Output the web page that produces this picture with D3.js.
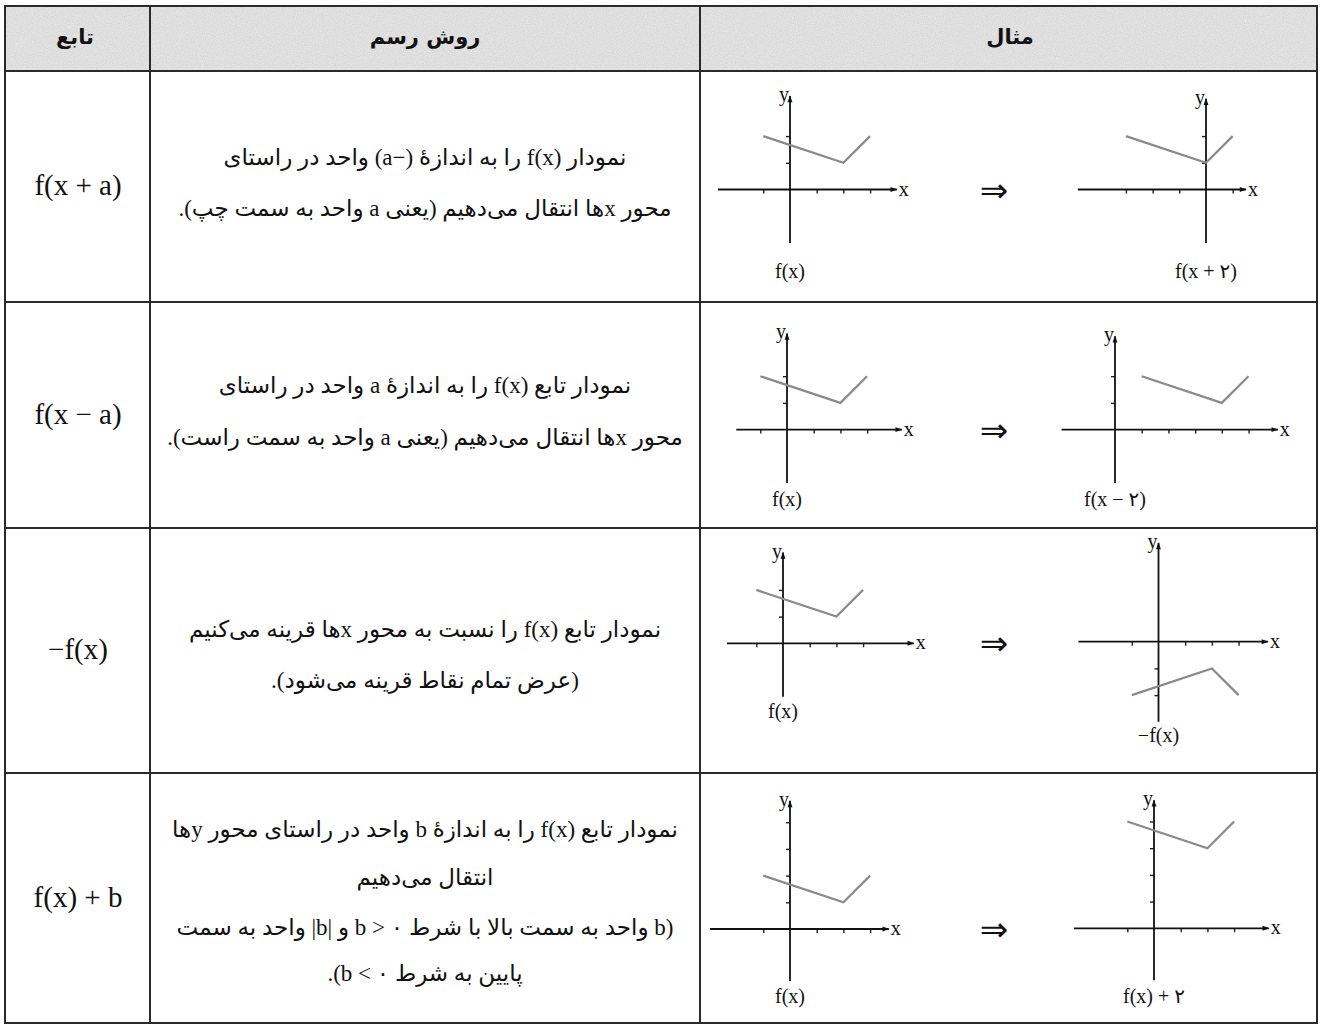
<!DOCTYPE html>
<html>
<head>
<meta charset="utf-8">
<script src="https://cdn.jsdelivr.net/npm/d3@7"></script>
<style>
  body { margin: 0; background: #fff; }
  svg { display: block; }
</style>
</head>
<body>
<div id="chart"></div>
<script>
// table text
const headers = ["تابع", "روش رسم", "مثال"];
const functionLabels = ["f(x + a)", "f(x − a)", "−f(x)", "f(x) + b"];
const methodLines = [
    ["نمودار f(x) را به اندازهٔ (−a) واحد در راستای",
     "محور xها انتقال می‌دهیم (یعنی a واحد به سمت چپ)."],
    ["نمودار تابع f(x) را به اندازهٔ a واحد در راستای",
     "محور xها انتقال می‌دهیم (یعنی a واحد به سمت راست)."],
    ["نمودار تابع f(x) را نسبت به محور xها قرینه می‌کنیم",
     "(عرض تمام نقاط قرینه می‌شود)."],
    ["نمودار تابع f(x) را به اندازهٔ b واحد در راستای محور yها",
     "انتقال می‌دهیم",
     "(b واحد به سمت بالا با شرط b > ۰ و |b| واحد به سمت",
     "پایین به شرط b < ۰)."]
];

// example graphs: vertices of the gray polylines
const baseF = [[-1, 2], [2, 1], [3, 2]];
const fShiftLeft = [[-3, 2], [0, 1], [1, 2]];
const fShiftRight = [[1, 2], [4, 1], [5, 2]];
const fReflect = [[-1, -2], [2, -1], [3, -2]];
const fShiftUp = [[-1, 4], [2, 3], [3, 4]];

const leftLabels = ["f(x)", "f(x)", "f(x)", "f(x)"];
const rightLabels = ["f(x + ۲)", "f(x − ۲)", "−f(x)", "f(x) + ۲"];

const xTicksBase = [-1, 1, 2, 3];
const xTicksLeft = [-3, -2, -1, 1];
const xTicksRight = [1, 2, 3, 4, 5];
const yTicksLow = [1, 2];
const yTicksNeg = [-1, -2];
const yTicksHigh = [1, 2, 3, 4];

const width = 1321, height = 1029;
const colX = [5, 150, 700, 1317];
const rowY = [6, 71, 302, 528, 773, 1023];
const unit = 26.7;

const svg = d3.select("#chart").append("svg")
    .attr("width", width)
    .attr("height", height);

const defs = svg.append("defs");
defs.append("marker")
    .attr("id", "arrow")
    .attr("viewBox", "0 0 10 10")
    .attr("refX", 9).attr("refY", 5)
    .attr("markerWidth", 11).attr("markerHeight", 7)
    .attr("markerUnits", "userSpaceOnUse")
    .attr("orient", "auto")
    .append("path")
    .attr("d", "M0,1.5 L10,5 L0,8.5 Z")
    .attr("fill", "#111");

const noise = defs.append("filter").attr("id", "speckle");
noise.append("feTurbulence").attr("type", "fractalNoise").attr("baseFrequency", 0.9).attr("numOctaves", 2).attr("seed", 3);
noise.append("feColorMatrix").attr("values", "0 0 0 0 0.5  0 0 0 0 0.5  0 0 0 0 0.5  0 0 0 0.6 -0.2");
noise.append("feComposite").attr("in2", "SourceGraphic").attr("operator", "in");

// header background
svg.append("rect")
    .attr("x", colX[0]).attr("y", rowY[0])
    .attr("width", colX[3] - colX[0]).attr("height", rowY[1] - rowY[0])
    .attr("fill", "#e3e3e3");
svg.append("rect")
    .attr("x", colX[0]).attr("y", rowY[0])
    .attr("width", colX[3] - colX[0]).attr("height", rowY[1] - rowY[0])
    .attr("fill", "#fff")
    .attr("filter", "url(#speckle)");

const persian = "'DejaVu Sans', sans-serif";
const mixed = "'Liberation Serif', 'DejaVu Sans', serif";

// header labels (column order is right to left in the page)
const headerX = [75, 425, 1010];
svg.selectAll("text.header")
    .data(headers)
    .join("text")
    .attr("class", "header")
    .attr("x", (d, i) => headerX[i])
    .attr("y", 38)
    .attr("text-anchor", "middle")
    .attr("dominant-baseline", "middle")
    .attr("font-family", persian)
    .attr("font-weight", "bold")
    .attr("font-size", 21)
    .attr("fill", "#111")
    .text(d => d);

// function column
svg.selectAll("text.func")
    .data(functionLabels)
    .join("text")
    .attr("class", "func")
    .attr("x", 78)
    .attr("y", (d, i) => (rowY[i + 1] + rowY[i + 2]) / 2 + 2)
    .attr("text-anchor", "middle")
    .attr("dominant-baseline", "middle")
    .attr("font-family", "'Liberation Serif', serif")
    .attr("font-size", 29)
    .attr("fill", "#111")
    .text(d => d);

// method column
const lineY = [[160, 211], [388, 440], [632, 683], [832, 880, 930, 976]];
methodLines.forEach((lines, r) => {
    svg.append("g")
        .selectAll("text")
        .data(lines)
        .join("text")
        .attr("x", 425)
        .attr("y", (d, i) => lineY[r][i])
        .attr("direction", "rtl")
        .attr("text-anchor", "middle")
        .attr("dominant-baseline", "middle")
        .attr("font-family", mixed)
        .attr("font-size", 23)
        .attr("fill", "#111")
        .text(d => d);
});

// one small coordinate sketch
function drawGraph(o, data, xTicks, yTicks, label, labelDy) {
    const x = d3.scaleLinear().domain([0, 1]).range([o.ox, o.ox + unit]);
    const y = d3.scaleLinear().domain([0, 1]).range([o.oy, o.oy - unit]);
    const g = svg.append("g");

    g.append("g")
        .attr("transform", `translate(0,${o.oy})`)
        .call(d3.axisBottom(x).tickValues(xTicks).tickSize(4).tickFormat(""))
        .call(a => a.select(".domain").remove())
        .call(a => a.selectAll("line").attr("stroke", "#222").attr("stroke-width", 1.4));
    g.append("g")
        .attr("transform", `translate(${o.ox},0)`)
        .call(d3.axisLeft(y).tickValues(yTicks).tickSize(4).tickFormat(""))
        .call(a => a.select(".domain").remove())
        .call(a => a.selectAll("line").attr("stroke", "#222").attr("stroke-width", 1.4));

    g.append("line")
        .attr("x1", x(o.xr[0])).attr("x2", x(o.xr[1]))
        .attr("y1", o.oy).attr("y2", o.oy)
        .attr("stroke", "#111").attr("stroke-width", 1.8)
        .attr("marker-end", "url(#arrow)");
    g.append("line")
        .attr("x1", o.ox).attr("x2", o.ox)
        .attr("y1", y(o.yr[0])).attr("y2", y(o.yr[1]))
        .attr("stroke", "#111").attr("stroke-width", 1.8)
        .attr("marker-end", "url(#arrow)");

    g.append("path")
        .datum(data)
        .attr("d", d3.line().x(d => x(d[0])).y(d => y(d[1])))
        .attr("fill", "none")
        .attr("stroke", "#8a8a8a")
        .attr("stroke-width", 2.2);

    g.append("text")
        .attr("x", x(o.xr[1]) + 2)
        .attr("y", o.oy + 6)
        .attr("font-family", "'Liberation Serif', serif")
        .attr("font-size", 20)
        .attr("fill", "#111")
        .text("x");
    g.append("text")
        .attr("x", o.ox - 1)
        .attr("y", y(o.yr[1]) + 5)
        .attr("text-anchor", "end")
        .attr("font-family", "'Liberation Serif', serif")
        .attr("font-size", 20)
        .attr("fill", "#111")
        .text("y");
    g.append("text")
        .attr("x", o.ox)
        .attr("y", o.oy + labelDy)
        .attr("text-anchor", "middle")
        .attr("dominant-baseline", "middle")
        .attr("font-family", mixed)
        .attr("font-size", 20)
        .attr("fill", "#111")
        .text(label);
}

const layouts = [
    [{ ox: 790, oy: 189.5, xr: [-2.7, 4.0], yr: [-2.0, 3.5] }, { ox: 1206, oy: 189.5, xr: [-4.8, 1.5], yr: [-2.0, 3.4] }],
    [{ ox: 787, oy: 429.6, xr: [-1.9, 4.3], yr: [-2.0, 3.6] }, { ox: 1115, oy: 429.6, xr: [-2.0, 6.1], yr: [-2.0, 3.5] }],
    [{ ox: 783, oy: 643.3, xr: [-2.1, 4.9], yr: [-2.0, 3.4] }, { ox: 1158.5, oy: 641.7, xr: [-3.0, 4.1], yr: [-3.0, 3.7] }],
    [{ ox: 790, oy: 929, xr: [-3.0, 3.7], yr: [-1.95, 4.8] }, { ox: 1154, oy: 928.3, xr: [-3.0, 4.3], yr: [-1.95, 4.8] }]
];
const rightData = [fShiftLeft, fShiftRight, fReflect, fShiftUp];
const rightXTicks = [xTicksLeft, xTicksRight, xTicksBase, xTicksBase];
const leftYTicks = [yTicksLow, yTicksLow, yTicksLow, yTicksHigh];
const rightYTicks = [yTicksLow, yTicksLow, yTicksNeg, yTicksHigh];
const leftDy = [84, 72, 70, 69];
const rightDy = [84, 72, 96, 70];

layouts.forEach((pair, r) => {
    drawGraph(pair[0], baseF, xTicksBase, leftYTicks[r], leftLabels[r], leftDy[r]);
    drawGraph(pair[1], rightData[r], rightXTicks[r], rightYTicks[r], rightLabels[r], rightDy[r]);
    svg.append("text")
        .attr("x", 994)
        .attr("y", pair[0].oy)
        .attr("text-anchor", "middle")
        .attr("dominant-baseline", "central")
        .attr("font-family", "'DejaVu Sans', sans-serif")
        .attr("font-size", 34)
        .attr("fill", "#111")
        .text("⇒");
});

// grid lines
const grid = svg.append("g")
    .attr("stroke", "#2a2a2a")
    .attr("stroke-width", 2)
    .attr("fill", "none");
grid.append("rect")
    .attr("x", colX[0]).attr("y", rowY[0])
    .attr("width", colX[3] - colX[0]).attr("height", rowY[5] - rowY[0]);
grid.selectAll("line.h")
    .data(rowY.slice(1, 5))
    .join("line")
    .attr("x1", colX[0]).attr("x2", colX[3])
    .attr("y1", d => d).attr("y2", d => d);
grid.selectAll("line.v")
    .data(colX.slice(1, 3))
    .join("line")
    .attr("x1", d => d).attr("x2", d => d)
    .attr("y1", rowY[0]).attr("y2", rowY[5]);
</script>
</body>
</html>
